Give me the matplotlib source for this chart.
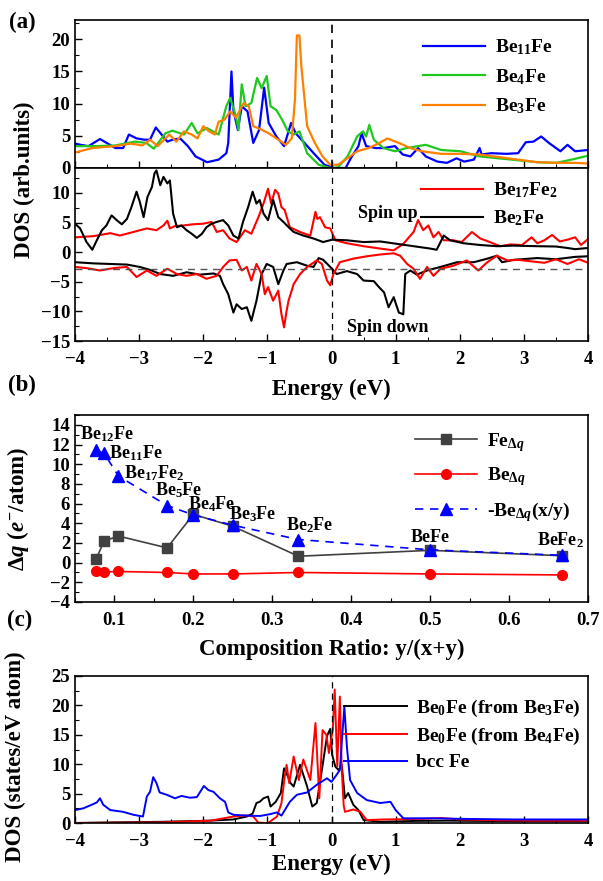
import numpy as np
import matplotlib
matplotlib.use('Agg')
import matplotlib.pyplot as plt
from matplotlib.ticker import MultipleLocator

plt.rcParams['font.family'] = ['Liberation Serif', 'DejaVu Serif']
plt.rcParams['font.weight'] = 'bold'
plt.rcParams['axes.labelweight'] = 'bold'
plt.rcParams['mathtext.fontset'] = 'custom'
plt.rcParams['mathtext.rm'] = 'Liberation Serif:bold'
plt.rcParams['mathtext.it'] = 'Liberation Serif:bold:italic'
plt.rcParams['mathtext.bf'] = 'Liberation Serif:bold'
plt.rcParams['xtick.direction'] = 'in'
plt.rcParams['ytick.direction'] = 'in'

# ---- (a) upper: DOS of Be-rich phases (energy, dos) ----
be11fe = [(-4.0, 3.8), (-3.91, 3.6), (-3.79, 3.4), (-3.61, 4.5), (-3.49, 3.8), (-3.37, 3.1),
          (-3.25, 3.1), (-3.16, 5.2), (-3.04, 4.6), (-2.92, 4.4), (-2.83, 4.4), (-2.74, 6.3),
          (-2.65, 5.2), (-2.56, 4.1), (-2.48, 4.4), (-2.36, 4.6), (-2.24, 3.4), (-2.12, 1.8),
          (-1.94, 0.9), (-1.76, 1.3), (-1.64, 2.3), (-1.61, 3.9), (-1.56, 15.0), (-1.53, 9.0),
          (-1.46, 5.9), (-1.40, 9.6), (-1.31, 8.8), (-1.22, 3.9), (-1.13, 5.9), (-1.05, 12.5),
          (-0.98, 7.0), (-0.86, 4.9), (-0.74, 3.4), (-0.63, 7.0), (-0.56, 5.4), (-0.44, 4.1),
          (-0.26, 2.1), (-0.11, 0.5), (0.04, 0.0), (0.22, 0.0), (0.30, 1.5), (0.42, 3.4),
          (0.47, 5.4), (0.54, 3.4), (0.69, 3.1), (0.81, 3.1), (0.99, 3.4), (1.11, 2.1),
          (1.23, 1.8), (1.35, 3.1), (1.47, 1.8), (1.65, 1.0), (1.80, 0.8), (1.95, 1.5),
          (2.07, 1.0), (2.22, 1.3), (2.31, 3.1), (2.34, 2.1), (2.49, 2.3), (2.73, 2.2),
          (2.91, 2.3), (3.03, 4.0), (3.15, 4.1), (3.27, 4.9), (3.39, 3.9), (3.57, 2.6),
          (3.68, 3.6), (3.80, 2.6), (4.0, 2.8)]
be4fe = [(-4.0, 3.4), (-3.67, 3.4), (-3.37, 3.5), (-3.07, 4.1), (-2.89, 3.9), (-2.77, 3.0),
         (-2.59, 5.4), (-2.48, 5.8), (-2.30, 5.2), (-2.18, 7.0), (-2.09, 5.4), (-1.94, 6.2),
         (-1.76, 5.2), (-1.64, 9.6), (-1.58, 10.9), (-1.49, 8.0), (-1.45, 5.9), (-1.40, 13.0),
         (-1.34, 9.6), (-1.25, 10.1), (-1.16, 14.0), (-1.09, 12.4), (-1.01, 14.3), (-0.95, 9.6),
         (-0.86, 9.0), (-0.77, 7.5), (-0.68, 5.7), (-0.59, 5.2), (-0.50, 5.7), (-0.38, 2.3),
         (-0.20, 0.5), (-0.02, 0.0), (0.10, 0.1), (0.25, 1.8), (0.40, 4.9), (0.49, 5.7),
         (0.54, 4.9), (0.59, 6.7), (0.66, 4.4), (0.81, 3.1), (0.99, 2.6), (1.17, 3.1),
         (1.47, 3.6), (1.71, 2.8), (2.01, 2.6), (2.31, 1.8), (2.61, 1.5), (2.91, 1.2),
         (3.21, 0.9), (3.51, 0.8), (3.74, 1.3), (4.0, 1.9)]
be3fe = [(-4.0, 2.4), (-3.73, 3.1), (-3.37, 3.4), (-3.13, 3.8), (-2.95, 3.5), (-2.83, 4.4),
         (-2.71, 3.4), (-2.53, 5.2), (-2.42, 4.1), (-2.30, 5.7), (-2.18, 5.2), (-2.09, 4.6),
         (-2.00, 6.5), (-1.91, 5.7), (-1.82, 5.2), (-1.76, 7.2), (-1.67, 7.5), (-1.58, 8.8),
         (-1.49, 7.8), (-1.37, 10.1), (-1.29, 9.6), (-1.22, 6.5), (-1.10, 6.0), (-0.98, 5.4),
         (-0.86, 4.6), (-0.71, 3.6), (-0.62, 4.6), (-0.57, 10.6), (-0.54, 20.6), (-0.50, 20.6),
         (-0.47, 15.8), (-0.38, 6.5), (-0.26, 3.9), (-0.14, 1.8), (-0.02, 0.5), (0.10, 0.5),
         (0.22, 1.3), (0.40, 2.6), (0.58, 3.1), (0.75, 3.9), (0.87, 4.6), (1.05, 3.9),
         (1.23, 3.1), (1.41, 2.6), (1.71, 2.2), (2.01, 2.2), (2.31, 2.1), (2.61, 1.7),
         (2.91, 1.3), (3.21, 0.9), (3.51, 0.8), (3.80, 0.8), (4.0, 0.7)]

# ---- (a) lower: spin-resolved DOS ----
be2fe_up = [(-4.0, 4.8), (-3.92, 4.0), (-3.82, 1.7), (-3.73, 0.4), (-3.66, 2.0), (-3.58, 3.7),
            (-3.51, 4.5), (-3.43, 6.2), (-3.35, 5.4), (-3.27, 4.7), (-3.19, 5.6), (-3.12, 7.6),
            (-3.04, 10.2), (-2.99, 8.5), (-2.93, 5.9), (-2.87, 9.3), (-2.80, 11.0), (-2.76, 13.3),
            (-2.73, 13.8), (-2.67, 11.3), (-2.62, 12.7), (-2.56, 11.6), (-2.52, 12.1), (-2.47, 6.5),
            (-2.41, 4.2), (-2.34, 4.5), (-2.26, 3.7), (-2.18, 3.1), (-2.10, 2.4), (-2.02, 3.1),
            (-1.95, 4.2), (-1.87, 4.8), (-1.79, 5.1), (-1.69, 5.4), (-1.61, 4.5), (-1.53, 2.8),
            (-1.45, 2.3), (-1.38, 5.1), (-1.30, 7.6), (-1.23, 10.2), (-1.17, 8.2), (-1.12, 8.8),
            (-1.06, 6.5), (-0.99, 5.4), (-0.91, 8.8), (-0.83, 5.9), (-0.75, 5.1), (-0.65, 4.0),
            (-0.59, 3.4), (-0.44, 2.8), (-0.28, 2.3), (-0.13, 1.7), (0.01, 2.1), (0.24, 2.0),
            (0.50, 1.7), (0.76, 1.8), (1.02, 1.4), (1.28, 1.0), (1.54, 0.6), (1.64, 0.4),
            (1.70, 1.7), (1.75, 2.8), (1.85, 2.0), (2.06, 1.5), (2.32, 1.2), (2.58, 1.0),
            (2.84, 1.1), (3.21, 1.0), (3.50, 0.95), (3.68, 0.7), (3.80, 0.5), (4.0, 0.7)]
be17fe2_up = [(-4.0, 2.5), (-3.71, 2.7), (-3.45, 3.2), (-3.30, 2.8), (-3.09, 3.4), (-2.88, 4.0),
              (-2.73, 3.7), (-2.62, 4.5), (-2.56, 5.3), (-2.52, 4.0), (-2.44, 4.4), (-2.31, 4.5),
              (-2.16, 4.7), (-2.00, 4.8), (-1.87, 5.1), (-1.79, 3.4), (-1.69, 3.7), (-1.59, 2.3),
              (-1.48, 1.7), (-1.35, 3.7), (-1.25, 3.1), (-1.14, 5.9), (-1.06, 8.2), (-0.99, 10.7),
              (-0.94, 8.2), (-0.88, 10.5), (-0.83, 9.9), (-0.78, 7.6), (-0.73, 7.1), (-0.65, 4.2),
              (-0.49, 3.4), (-0.33, 2.8), (-0.25, 6.8), (-0.22, 5.6), (-0.18, 5.9), (-0.10, 4.2),
              (-0.02, 4.0), (0.06, 2.0), (0.24, 1.5), (0.50, 1.0), (0.76, 0.6), (0.97, 0.3),
              (1.12, 1.4), (1.28, 3.4), (1.35, 5.4), (1.43, 3.7), (1.51, 4.5), (1.59, 2.5),
              (1.67, 3.4), (1.75, 2.0), (1.90, 2.0), (2.03, 1.7), (2.19, 3.4), (2.32, 2.3),
              (2.47, 1.7), (2.63, 1.0), (2.79, 1.3), (2.97, 1.2), (3.12, 2.5), (3.21, 1.5),
              (3.32, 2.0), (3.44, 2.9), (3.56, 1.8), (3.68, 2.1), (3.80, 2.5), (3.89, 1.2),
              (4.0, 2.2)]
be2fe_dn = [(-4.0, -1.7), (-3.71, -1.9), (-3.45, -2.0), (-3.19, -2.1), (-2.99, -2.5), (-2.83, -3.0),
            (-2.67, -3.7), (-2.47, -4.0), (-2.26, -3.4), (-2.05, -3.8), (-1.84, -3.6), (-1.74, -4.0),
            (-1.69, -5.4), (-1.61, -7.1), (-1.53, -10.2), (-1.48, -8.8), (-1.40, -9.6), (-1.32, -9.3),
            (-1.25, -11.6), (-1.17, -8.2), (-1.09, -3.7), (-1.01, -2.0), (-0.91, -2.5), (-0.83, -5.4),
            (-0.75, -3.1), (-0.70, -2.0), (-0.54, -1.7), (-0.38, -2.3), (-0.28, -2.5), (-0.20, -1.0),
            (-0.13, -1.3), (-0.02, -2.5), (0.08, -3.7), (0.24, -3.2), (0.40, -3.7), (0.50, -4.8),
            (0.66, -4.9), (0.74, -5.9), (0.82, -6.8), (0.89, -9.3), (0.97, -7.6), (1.05, -10.2),
            (1.12, -10.5), (1.15, -3.7), (1.23, -3.1), (1.33, -3.8), (1.49, -3.1), (1.70, -2.5),
            (1.96, -1.7), (2.22, -1.7), (2.43, -1.1), (2.58, -0.6), (2.66, -1.7), (2.84, -1.3),
            (3.21, -1.0), (3.50, -1.2), (3.80, -0.8), (4.0, -0.7)]
be17fe2_dn = [(-4.0, -2.5), (-3.82, -2.7), (-3.61, -3.1), (-3.40, -2.7), (-3.19, -2.5), (-3.04, -4.2),
              (-2.88, -3.1), (-2.73, -4.0), (-2.56, -2.8), (-2.41, -3.7), (-2.26, -4.0), (-2.10, -3.7),
              (-1.95, -4.5), (-1.79, -4.0), (-1.69, -2.5), (-1.59, -1.4), (-1.48, -1.3), (-1.40, -3.1),
              (-1.32, -2.5), (-1.25, -4.8), (-1.17, -2.0), (-1.09, -3.7), (-1.04, -7.1), (-0.99, -5.9),
              (-0.91, -8.2), (-0.83, -6.5), (-0.78, -10.5), (-0.74, -12.7), (-0.70, -9.9), (-0.67, -8.2),
              (-0.59, -5.4), (-0.49, -3.7), (-0.38, -2.5), (-0.23, -1.4), (-0.15, -2.0), (-0.07, -4.8),
              (-0.02, -5.6), (0.03, -3.7), (0.13, -1.7), (0.34, -1.1), (0.55, -0.7), (0.76, -0.4),
              (0.97, -0.2), (1.07, -0.6), (1.18, -2.0), (1.28, -2.8), (1.38, -4.5), (1.49, -2.5),
              (1.59, -4.0), (1.70, -2.8), (1.90, -2.3), (2.11, -1.4), (2.29, -3.1), (2.43, -1.7),
              (2.58, -0.6), (2.74, -1.4), (2.91, -1.3), (3.15, -1.6), (3.32, -1.8), (3.50, -1.2),
              (3.68, -2.0), (3.86, -1.2), (4.0, -1.8)]
ref_level = -2.8

# ---- (b) charge transfer vs composition ----
comp_names = ['Be$_{12}$Fe', 'Be$_{11}$Fe', 'Be$_{17}$Fe$_2$', 'Be$_5$Fe', 'Be$_4$Fe',
              'Be$_3$Fe', 'Be$_2$Fe', 'BeFe', 'BeFe$_2$']
ratio = [0.0769, 0.087, 0.105, 0.1667, 0.2, 0.25, 0.333, 0.5, 0.667]
fe_dq = [0.4, 2.2, 2.7, 1.5, 4.9, 3.7, 0.65, 1.25, 0.7]
be_dq = [-0.85, -0.95, -0.9, -1.0, -1.15, -1.15, -1.0, -1.15, -1.25]
be_dq_scaled = [11.4, 11.1, 8.8, 5.8, 4.85, 3.8, 2.35, 1.3, 0.75]

# ---- (c) Fe d-DOS ----
be0fe_from_be3fe = [(-4.0, 0.0), (-3.45, 0.1), (-2.67, 0.2), (-1.89, 0.4), (-1.53, 0.6), (-1.32, 1.1),
                    (-1.23, 1.6), (-1.17, 3.4), (-1.12, 3.6), (-1.06, 4.2), (-0.99, 4.5), (-0.95, 2.8),
                    (-0.87, 3.6), (-0.79, 5.1), (-0.74, 9.3), (-0.68, 7.9), (-0.64, 6.8), (-0.59, 6.2),
                    (-0.49, 9.9), (-0.38, 6.2), (-0.30, 2.8), (-0.23, 3.4), (-0.15, 9.0), (-0.07, 14.8),
                    (-0.02, 16.0), (0.01, 11.6), (0.06, 9.6), (0.11, 9.0), (0.16, 9.9), (0.21, 4.2),
                    (0.26, 5.1), (0.34, 3.1), (0.42, 2.2), (0.50, 0.5), (0.76, 0.2), (1.28, 0.35),
                    (1.80, 0.4), (2.32, 0.35), (3.0, 0.3), (3.6, 0.3), (4.0, 0.3)]
be0fe_from_be4fe = [(-4.0, 0.0), (-2.67, 0.1), (-1.89, 0.4), (-1.53, 1.1), (-1.32, 1.3), (-1.22, 1.1),
                    (-1.14, 0.05), (-0.99, 0.0), (-0.85, 1.1), (-0.78, 3.4), (-0.73, 7.9), (-0.70, 9.9),
                    (-0.66, 6.8), (-0.59, 11.3), (-0.51, 7.3), (-0.44, 10.8), (-0.33, 7.3), (-0.25, 17.0),
                    (-0.19, 4.2), (-0.14, 15.8), (-0.08, 15.0), (-0.04, 11.9), (0.02, 15.9), (0.05, 22.7),
                    (0.09, 9.6), (0.13, 21.5), (0.16, 9.0), (0.19, 3.0), (0.21, 1.9), (0.34, 2.3),
                    (0.45, 1.9), (0.55, 0.5), (0.81, 0.6), (1.41, 0.7), (1.71, 0.85), (2.01, 0.6),
                    (2.61, 0.45), (3.20, 0.4), (4.0, 0.4)]
bcc_fe = [(-4.0, 2.2), (-3.87, 2.5), (-3.74, 3.1), (-3.66, 3.5), (-3.61, 4.2), (-3.56, 3.1),
          (-3.45, 2.2), (-3.25, 1.9), (-3.09, 1.4), (-2.94, 1.1), (-2.88, 4.5), (-2.83, 5.3),
          (-2.78, 7.8), (-2.73, 6.8), (-2.68, 5.2), (-2.57, 4.8), (-2.44, 4.2), (-2.34, 4.6),
          (-2.21, 4.3), (-2.10, 4.4), (-2.03, 5.6), (-1.99, 6.3), (-1.92, 5.6), (-1.84, 5.3),
          (-1.74, 4.2), (-1.66, 3.6), (-1.61, 1.8), (-1.53, 1.4), (-1.32, 1.25), (-1.11, 1.2),
          (-0.96, 1.5), (-0.85, 1.8), (-0.78, 1.25), (-0.65, 3.6), (-0.54, 4.8), (-0.38, 5.2),
          (-0.23, 6.5), (-0.07, 7.6), (0.0, 7.0), (0.06, 7.9), (0.13, 9.0), (0.20, 19.8),
          (0.24, 13.0), (0.29, 7.3), (0.40, 5.1), (0.55, 3.9), (0.76, 3.4), (0.92, 3.6),
          (1.00, 2.2), (1.12, 0.8), (1.54, 0.8), (2.06, 0.7), (2.84, 0.6), (3.5, 0.6), (4.0, 0.6)]

W, H = 603, 881
fig = plt.figure(figsize=(W / 100, H / 100), dpi=100)


def ax_at(left, top, right, bottom):
    return fig.add_axes([left / W, 1 - bottom / H, (right - left) / W, (bottom - top) / H])


def style(ax):
    for s in ax.spines.values():
        s.set_linewidth(1.2)
    ax.tick_params(axis='both', which='major', labelsize=13.5, length=5, width=1.0,
                   top=False, right=False)
    ax.tick_params(axis='x', which='major', pad=7)
    ax.tick_params(axis='both', which='minor', length=3, width=0.8, top=False, right=False)


def xy(pairs):
    a = np.array(pairs)
    return a[:, 0], a[:, 1]


# (a) upper
ax1 = ax_at(75, 20, 588, 168)
for data, c, lab in [(be11fe, '#0000ff', 'Be$_{11}$Fe'), (be4fe, '#1ec81e', 'Be$_4$Fe'),
                     (be3fe, '#ff8000', 'Be$_3$Fe')]:
    x, y = xy(data)
    ax1.plot(x, y, color=c, lw=1.6, label=lab)
ax1.axvline(0, color='black', ls='--', lw=1.2, dashes=(5, 4))
ax1.set_xlim(-4, 4)
ax1.set_ylim(0, 23)
ax1.yaxis.set_major_locator(MultipleLocator(5))
ax1.yaxis.set_minor_locator(MultipleLocator(2.5))
ax1.xaxis.set_major_locator(MultipleLocator(1))
ax1.xaxis.set_minor_locator(MultipleLocator(0.5))
ax1.set_xticklabels([])
style(ax1)
ax1.legend(loc='upper right', bbox_to_anchor=(0.965, 1.0), frameon=False, fontsize=14,
           handlelength=3.2, labelspacing=0.5, handletextpad=0.5)

# (a) lower
ax2 = ax_at(75, 168, 588, 341)
for data, c, lab in [(be17fe2_up, 'red', 'Be$_{17}$Fe$_2$'), (be2fe_up, 'black', 'Be$_2$Fe')]:
    x, y = xy(data)
    ax2.plot(x, y, color=c, lw=1.5, label=lab)
for data, c in [(be2fe_dn, 'black'), (be17fe2_dn, 'red')]:
    x, y = xy(data)
    ax2.plot(x, y, color=c, lw=1.5)
ax2.axhline(ref_level, color='#555555', ls='--', lw=1.0, dashes=(5, 4))
ax2.axvline(0, color='black', ls='--', lw=0.9, dashes=(5, 4))
ax2.set_xlim(-4, 4)
ax2.set_ylim(-15, 14.2)
ax2.yaxis.set_major_locator(MultipleLocator(5))
ax2.yaxis.set_minor_locator(MultipleLocator(2.5))
ax2.xaxis.set_major_locator(MultipleLocator(1))
ax2.xaxis.set_minor_locator(MultipleLocator(0.5))
style(ax2)
ax2.set_xlabel('Energy (eV)', fontsize=16.5, labelpad=8)
ax2.text(0.88, 6.6, 'Spin up', fontsize=13, ha='center', va='center')
ax2.text(0.87, -12.7, 'Spin down', fontsize=13, ha='center', va='center')
ax2.legend(loc='upper right', bbox_to_anchor=(0.975, 1.03), frameon=False, fontsize=14,
           handlelength=3.2, labelspacing=0.45, handletextpad=0.5)
fig.text(24 / W, 1 - 180 / H, 'DOS (arb.units)', rotation=90, fontsize=16.5,
         ha='center', va='center')

# (b)
ax3 = ax_at(75, 415, 588, 602)
ax3.plot(ratio, fe_dq, color='#404040', marker='s', ms=6.5, lw=1.2, label=r'Fe$_{\Delta q}$')
ax3.plot(ratio, be_dq, color='red', marker='o', ms=7, lw=1.2, label=r'Be$_{\Delta q}$')
ax3.plot(ratio, be_dq_scaled, color='#0000ff', marker='^', ms=8, lw=1.2, ls='--',
         dashes=(5, 4), label=r'-Be$_{\Delta q}$(x/y)')
offsets = [(8, 12), (23, 0), (26, 2), (8, 11), (13, 8), (14, 8), (8, 10), (0, 9), (-1, 11)]
for name, xv, yv, off in zip(comp_names, ratio, be_dq_scaled, offsets):
    ax3.annotate(name, (xv, yv), xytext=off, textcoords='offset points', fontsize=13,
                 ha='center', va='center')
ax3.set_xlim(0.05, 0.7)
ax3.set_ylim(-4, 15)
ax3.xaxis.set_major_locator(MultipleLocator(0.1))
ax3.xaxis.set_minor_locator(MultipleLocator(0.05))
ax3.yaxis.set_major_locator(MultipleLocator(2))
ax3.yaxis.set_minor_locator(MultipleLocator(1))
style(ax3)
ax3.set_xlabel('Composition Ratio: y/(x+y)', fontsize=16.5, labelpad=7)
ax3.set_ylabel(r'$\Delta q$ ($e^{-}$/atom)', fontsize=16.5)
ax3.yaxis.set_label_coords(-0.085, 0.5)
ax3.legend(loc='upper right', bbox_to_anchor=(1.0, 1.01), frameon=False, fontsize=14,
           handlelength=3.2, labelspacing=0.6, handletextpad=0.5)

# (c)
ax4 = ax_at(75, 676, 588, 823)
for data, c, lab in [(be0fe_from_be3fe, 'black', 'Be$_0$Fe (from Be$_3$Fe)'),
                     (be0fe_from_be4fe, 'red', 'Be$_0$Fe (from Be$_4$Fe)'),
                     (bcc_fe, '#0000ff', 'bcc Fe')]:
    x, y = xy(data)
    ax4.plot(x, y, color=c, lw=1.4, label=lab)
ax4.axvline(0, color='black', ls='--', lw=0.9, dashes=(5, 4))
ax4.set_xlim(-4, 4)
ax4.set_ylim(0, 25)
ax4.yaxis.set_major_locator(MultipleLocator(5))
ax4.yaxis.set_minor_locator(MultipleLocator(2.5))
ax4.xaxis.set_major_locator(MultipleLocator(1))
ax4.xaxis.set_minor_locator(MultipleLocator(0.5))
style(ax4)
ax4.set_xlabel('Energy (eV)', fontsize=16.5, labelpad=3)
ax4.set_ylabel('DOS (states/eV atom)', fontsize=16.5)
ax4.yaxis.set_label_coords(-0.095, 0.45)
ax4.legend(loc='upper right', bbox_to_anchor=(1.02, 0.97), frameon=False, fontsize=14,
           handlelength=3.2, labelspacing=0.35, handletextpad=0.5)

fig.text(22 / W, 1 - 22 / H, '(a)', fontsize=16.5, ha='center', va='center')
fig.text(22 / W, 1 - 385 / H, '(b)', fontsize=16.5, ha='center', va='center')
fig.text(20 / W, 1 - 620 / H, '(c)', fontsize=16.5, ha='center', va='center')

fig.savefig('out.png', dpi=100)
